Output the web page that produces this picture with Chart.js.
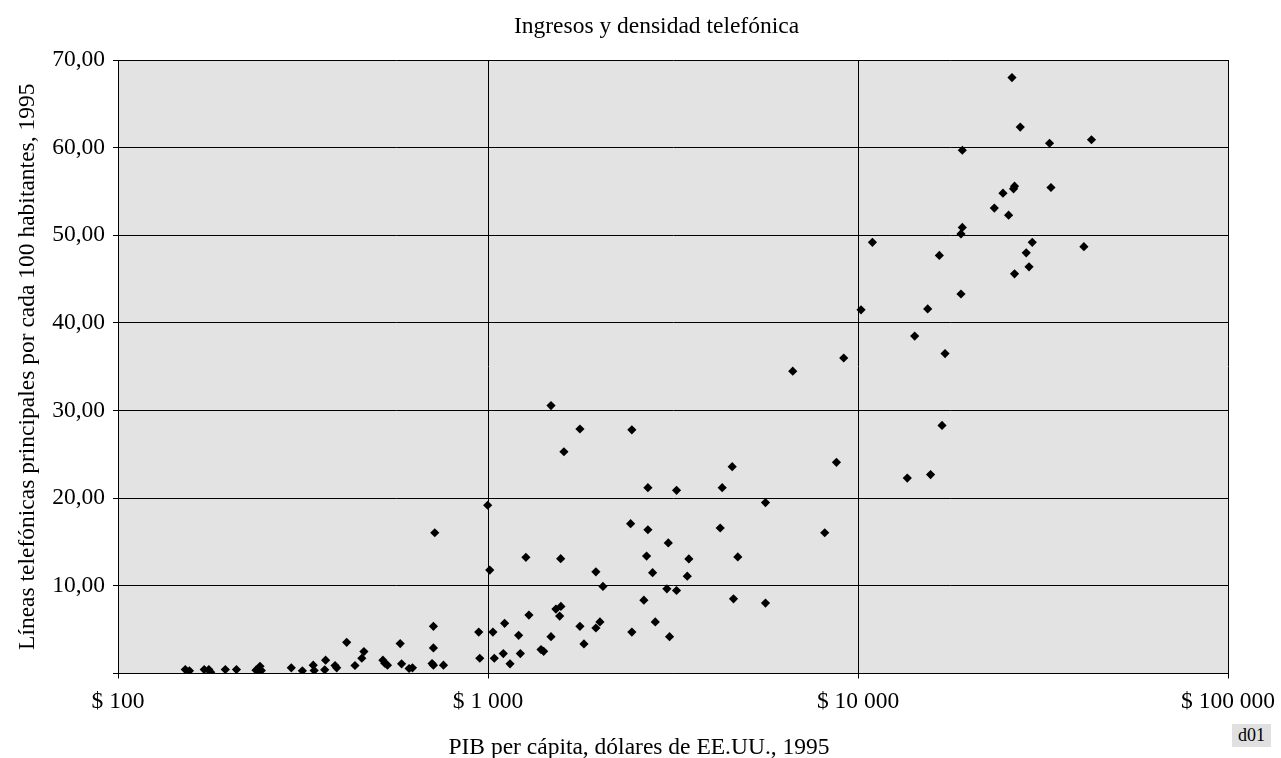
<!DOCTYPE html>
<html>
<head>
<meta charset="utf-8">
<script src="https://cdn.jsdelivr.net/npm/chart.js@4/dist/chart.umd.min.js"></script>
<style>
  html, body { margin: 0; padding: 0; background: #ffffff; }
  #wrap { position: relative; width: 1281px; height: 758px; }
  #c { position: absolute; left: 0; top: 0; }
  #tag { position: absolute; left: 1232px; top: 724px; width: 39px; height: 23px;
         background: #e0e0e0; font-family: "Liberation Serif", "Times New Roman", serif;
         font-size: 18px; line-height: 23px; text-align: center; color: #000; }
</style>
</head>
<body>
<div id="wrap">
  <canvas id="c" width="1281" height="758"></canvas>
  <div id="tag">d01</div>
</div>
<script>
// ---- Data ----
const chartTitle = "Ingresos y densidad telefónica";
const xAxisTitle = "PIB per cápita, dólares de EE.UU., 1995";
const yAxisTitle = "Líneas telefónicas principales por cada 100 habitantes, 1995";

// GDP per capita (US$ 1995)
const gdpPerCapita = [
  26070, 27450, 32940, 42760, 19140, 26490, 26330, 33230, 24650, 23360,
  25530, 19140, 18980, 10940, 29580, 28490, 40790, 16590, 28990, 26490,
  18980, 15430, 10190, 14230, 17190,
  6663, 9150, 16870, 8745, 13590, 15710, 8130, 5623, 5623,
  1480, 1772, 2448, 1604, 4571, 2705, 3233, 4295, 998, 718,
  2429, 2705, 4242, 3071, 1266, 1572, 2683, 3490, 4733, 1011,
  1957, 2785, 3456, 2045, 3044, 3233, 2638, 4608, 712, 944,
  1031, 1109, 1210, 1290, 1526, 1574, 1562, 1480, 1772, 1957,
  2007, 2448, 2832, 3095, 712, 950, 1040, 1100, 1223, 1391,
  1414, 1817, 706, 712, 758, 1147,
  415, 579, 462, 456, 364, 337, 386, 390, 437, 520,
  526, 535, 584, 612, 625, 294, 315, 339, 362, 152,
  156, 171, 176, 178, 195, 209, 236, 240, 242, 244
];
// Main telephone lines per 100 inhabitants (1995)
const linesPer100 = [
  68.0, 62.35, 60.5, 60.9, 59.7, 55.6, 55.3, 55.45, 54.8, 53.1,
  52.3, 50.9, 50.15, 49.2, 49.2, 48.0, 48.7, 47.7, 46.4, 45.6,
  43.3, 41.6, 41.5, 38.5, 36.5,
  34.5, 36.0, 28.3, 24.1, 22.3, 22.7, 16.06, 19.5, 8.03,
  30.57, 27.9, 27.8, 25.3, 23.6, 21.2, 20.9, 21.2, 19.2, 16.06,
  17.1, 16.4, 16.6, 14.9, 13.26, 13.1, 13.4, 13.07, 13.3, 11.8,
  11.6, 11.5, 11.1, 9.93, 9.66, 9.47, 8.37, 8.52, 5.38, 4.73,
  4.73, 5.72, 4.36, 6.67, 7.35, 7.65, 6.55, 4.2, 5.38, 5.19,
  5.88, 4.73, 5.88, 4.2, 2.92, 1.74, 1.74, 2.27, 2.27, 2.73,
  2.53, 3.37, 1.14, 0.95, 0.95, 1.10,
  3.56, 3.41, 2.5, 1.74, 1.52, 0.95, 0.91, 0.65, 0.91, 1.52,
  1.17, 0.95, 1.1, 0.57, 0.65, 0.65, 0.3, 0.34, 0.42, 0.45,
  0.3, 0.45, 0.45, 0.15, 0.45, 0.45, 0.38, 0.53, 0.83, 0.34
];

const xTickValues = [100, 1000, 10000, 100000];
const xTickLabels = ["$ 100", "$ 1 000", "$ 10 000", "$ 100 000"];
const yTickValues = [0, 10, 20, 30, 40, 50, 60, 70];
const yTickLabels = ["", "10,00", "20,00", "30,00", "40,00", "50,00", "60,00", "70,00"];

// ---- Chart ----
const FONT = '"Liberation Serif", "Times New Roman", serif';
const FS = 23.5;

const points = gdpPerCapita.map((g, i) => ({ x: g, y: linesPer100[i] }));

const plotBg = {
  id: 'plotBg',
  beforeDraw(chart) {
    const { ctx, chartArea: a } = chart;
    ctx.save();
    ctx.fillStyle = '#e3e3e3';
    ctx.fillRect(a.left, a.top, a.right - a.left, a.bottom - a.top);
    ctx.restore();
  }
};

const texts = {
  id: 'texts',
  afterDraw(chart) {
    const { ctx } = chart;
    ctx.save();
    ctx.fillStyle = '#000';
    ctx.font = FS + 'px ' + FONT;
    ctx.textAlign = 'center';
    ctx.textBaseline = 'alphabetic';
    ctx.fillText(chartTitle, 656.5, 33);
    ctx.fillText(xAxisTitle, 639, 754);
    ctx.restore();
  }
};

new Chart(document.getElementById('c'), {
  type: 'scatter',
  data: {
    datasets: [{
      label: 'Países',
      data: points,
      pointStyle: 'rectRot',
      pointRadius: 4.6,
      pointHoverRadius: 4.6,
      backgroundColor: '#000',
      borderColor: '#000',
      borderWidth: 0
    }]
  },
  options: {
    responsive: false,
    animation: false,
    devicePixelRatio: 1,
    layout: { padding: { top: 60, left: 0, right: 53, bottom: 0 } },
    plugins: {
      legend: { display: false },
      title: { display: false },
      tooltip: { enabled: false }
    },
    scales: {
      x: {
        type: 'logarithmic',
        min: 100,
        max: 100000,
        afterBuildTicks(scale) { scale.ticks = xTickValues.map(v => ({ value: v })); },
        afterFit(scale) { scale.height = 84.5; scale.paddingLeft = 0; scale.paddingRight = 0; },
        ticks: {
          autoSkip: false,
          maxRotation: 0,
          padding: 9,
          color: '#000',
          font: { family: FONT, size: FS },
          callback: (v, i) => xTickLabels[i]
        },
        grid: { color: '#000', lineWidth: 1, tickLength: 5, tickColor: '#000' },
        border: { color: '#000', width: 1 }
      },
      y: {
        type: 'linear',
        min: 0,
        max: 70,
        afterBuildTicks(scale) { scale.ticks = yTickValues.map(v => ({ value: v })); },
        afterFit(scale) { scale.width = 118; scale.paddingTop = 0; scale.paddingBottom = 0; },
        ticks: {
          padding: 8,
          color: '#000',
          font: { family: FONT, size: FS },
          callback: (v, i) => yTickLabels[i]
        },
        grid: { color: '#000', lineWidth: 1, tickLength: 5, tickColor: '#000' },
        border: { color: '#000', width: 1 },
        title: {
          display: true,
          text: yAxisTitle,
          color: '#000',
          font: { family: FONT, size: FS },
          padding: { top: 14, bottom: 0 }
        }
      }
    }
  },
  plugins: [plotBg, texts]
});
</script>
</body>
</html>
